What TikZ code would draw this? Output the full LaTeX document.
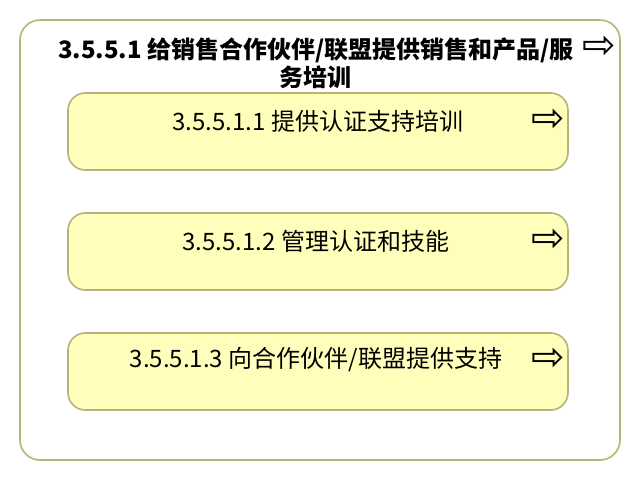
\documentclass[tikz,border=0pt]{standalone}
\usepackage{fontspec}
\setmainfont{Noto Sans CJK SC}
\newfontfamily\arrowfont{DejaVu Sans}
\usetikzlibrary{positioning}
\definecolor{olivegray}{RGB}{180,180,122}
\definecolor{paleyellow}{RGB}{255,255,187}
\tikzstyle{group} = [rectangle, rounded corners=15pt, minimum width=450pt, minimum height=330pt, draw=olivegray, line width=1.2pt, fill=white]
\tikzstyle{task} = [rectangle, rounded corners=13pt, minimum width=375pt, minimum height=57.75pt, draw=olivegray, line width=1.2pt, fill=paleyellow]
\tikzstyle{label} = [inner sep=0pt, font=\fontsize{18pt}{22pt}\selectfont]
\tikzstyle{go} = [inner sep=0pt, font=\arrowfont\fontsize{30pt}{30pt}\selectfont]

\begin{document}
\begin{tikzpicture}[x=0.75pt, y=-0.75pt]
\useasboundingbox (0,0) rectangle (640,480);

\node (grp) [group] at (320,240) {};
\node (title) [label, align=center, font=\bfseries\fontsize{18pt}{21pt}\selectfont] at (316,63) {3.5.5.1 给销售合作伙伴/联盟提供销售和产品/服\\务培训};
\node (goT) [go] at (599,47) {⇨};

%% las tareas
\node (t1) [task] at (318,131.5) {};
\node (t2) [task] at (318,251.5) {};
\node (t3) [task] at (318,371.5) {};

\node (l1) [label] at (318,121) {3.5.5.1.1 提供认证支持培训};
\node (l2) [label] at (316,241) {3.5.5.1.2 管理认证和技能};
\node (l3) [label] at (316,360) {3.5.5.1.3 向合作伙伴/联盟提供支持};

\node (go1) [go] at (548,120) {⇨};
\node (go2) [go] at (548,240) {⇨};
\node (go3) [go] at (548,359) {⇨};

\end{tikzpicture}
\end{document}
